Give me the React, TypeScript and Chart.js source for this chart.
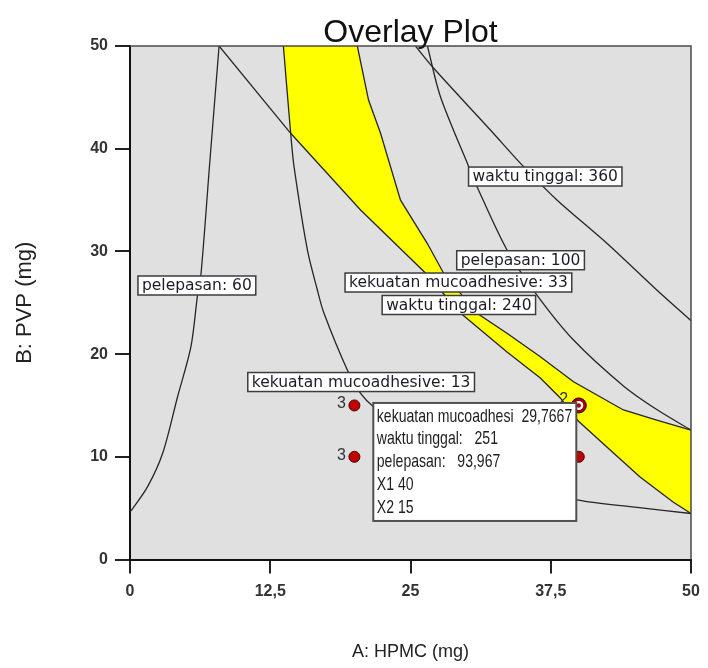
import React, { useEffect, useRef } from 'react';
import { Chart, registerables } from 'chart.js';

Chart.register(...registerables);

// Axis ticks
const X_TICKS = [0, 12.5, 25, 37.5, 50];
const Y_TICKS = [0, 10, 20, 30, 40, 50];

// Contour: pelepasan = 60
const pelepasan60A = [7.94, 7.12, 6.32, 6.02, 5.43, 4.24, 2.91, 1.57, 0.15, 0];
const pelepasan60B = [50, 38.8, 27.7, 25.75, 20.72, 15.85, 10.34, 7.09, 4.82, 4.65];

// Contour: kekuatan mucoadhesive = 13
const kekuatan13A = [13.67, 14.32, 14.62, 15.81, 16.7, 17.29, 19.37, 20.55, 21.71, 25.0, 30.0, 35.0, 39.83, 45.0, 50];
const kekuatan13B = [50, 41.5, 38.25, 30.14, 26.24, 23.97, 18.45, 16.18, 14.88, 12.3, 9.4, 7.3, 5.8, 5.1, 4.48];

// Contour: kekuatan mucoadhesive = 33
const kekuatan33A = [20.26, 21.26, 22.33, 24.11, 26.49, 27.94, 30.93, 33.6, 36.57, 39.53, 43.98, 46.95, 50];
const kekuatan33B = [50, 44.74, 41.5, 34.99, 30.79, 27.9, 23.97, 22.03, 19.75, 17.3, 14.56, 13.58, 12.6];

// Contour: waktu tinggal = 240
const waktu240A = [7.94, 14.32, 20.55, 26.33, 29.45, 33.6, 36.57, 38.35, 39.95, 42.5, 45.46, 48.4, 50];
const waktu240B = [50, 41.5, 34.03, 27.9, 24.0, 20.2, 17.67, 15.73, 13.49, 10.95, 8.03, 5.6, 4.48];

// Contour: waktu tinggal = 360
const waktu360A = [25.44, 27.07, 32.12, 35.08, 38.05, 42.5, 46.95, 50];
const waktu360B = [50, 47.83, 41.82, 38.25, 35.01, 30.79, 26.24, 23.25];

// Contour: pelepasan = 100
const pelepasan100A = [26.51, 27.67, 30.19, 30.93, 33.6, 36.27, 39.53, 43.98, 46.95, 50];
const pelepasan100B = [50, 45.06, 38.25, 36.3, 30.14, 25.75, 21.37, 16.9, 14.6, 12.6];

// Design points and replicate counts
const designA = [20, 20, 40, 40];
const designB = [15, 10, 15, 10];
const replicates = ['3', '3', '2', ''];

// Flagged point
const flagA = [40];
const flagB = [15];
const flagNames = ['kekuatan mucoadhesi', 'waktu tinggal:', 'pelepasan:'];
const flagValues = ['29,7667', '251', '93,967'];

// Contour label texts and where they sit (data units)
const contourLabels = [
  'pelepasan: 60',
  'kekuatan mucoadhesive: 13',
  'kekuatan mucoadhesive: 33',
  'waktu tinggal: 240',
  'pelepasan: 100',
  'waktu tinggal: 360',
];
const labelAnchors = [
  [5.96, 26.68],
  [20.6, 17.28],
  [29.27, 26.97],
  [29.31, 24.78],
  [34.81, 29.14],
  [37.01, 37.29],
];

// Feasible (overlay) region: K13 top edge, then W240, then K33 back up
const feasibleA = [kekuatan13A[0], ...waktu240A.slice(1), ...kekuatan33A.slice().reverse()];
const feasibleB = [kekuatan13B[0], ...waktu240B.slice(1), ...kekuatan33B.slice().reverse()];

const SANS = 'Arial, "Liberation Sans", sans-serif';

const pts = (xs: number[], ys: number[]) => xs.map((x, i) => ({ x, y: ys[i] }));

const contour = (label: string, xs: number[], ys: number[], tension: number) => ({
  label,
  data: pts(xs, ys),
  showLine: true,
  pointRadius: 0,
  borderColor: '#262626',
  borderWidth: 1.3,
  tension,
  fill: false,
  order: 5,
});

const overlayPlugin = {
  id: 'overlayDecor',
  beforeDraw(chart: any) {
    const { ctx, chartArea: a } = chart;
    ctx.save();
    ctx.fillStyle = '#e0e0e0';
    ctx.fillRect(a.left, a.top, a.right - a.left, a.bottom - a.top);
    ctx.restore();
  },
  afterDatasetsDraw(chart: any) {
    const { ctx, chartArea: a } = chart;
    const xs = chart.scales.x;
    const ys = chart.scales.y;
    ctx.save();

    // top and right frame
    ctx.strokeStyle = '#4a4a4a';
    ctx.lineWidth = 1.5;
    ctx.beginPath();
    ctx.moveTo(a.left, a.top);
    ctx.lineTo(a.right, a.top);
    ctx.lineTo(a.right, a.bottom);
    ctx.stroke();

    // replicate counts beside design points
    ctx.font = `16px ${SANS}`;
    ctx.fillStyle = '#333';
    ctx.textAlign = 'center';
    ctx.textBaseline = 'middle';
    designA.forEach((v, i) => {
      if (!replicates[i]) return;
      const flagged = v === flagA[0] && designB[i] === flagB[0];
      const px = xs.getPixelForValue(v) - (flagged ? 15 : 13);
      const py = ys.getPixelForValue(designB[i]) - (flagged ? 6 : 1.5);
      ctx.fillText(replicates[i], px, py);
    });

    // contour labels
    ctx.font = '15.5px "DejaVu Sans", Verdana, sans-serif';
    contourLabels.forEach((text, i) => {
      const cx = xs.getPixelForValue(labelAnchors[i][0]);
      const cy = ys.getPixelForValue(labelAnchors[i][1]);
      const w = ctx.measureText(text).width + 8;
      const h = 19;
      ctx.fillStyle = '#ffffff';
      ctx.fillRect(cx - w / 2, cy - h / 2, w, h);
      ctx.strokeStyle = '#3c3c3c';
      ctx.lineWidth = 1.5;
      ctx.strokeRect(cx - w / 2, cy - h / 2, w, h);
      ctx.fillStyle = '#1c1c28';
      ctx.textAlign = 'center';
      ctx.textBaseline = 'middle';
      ctx.fillText(text, cx, cy + 0.5);
    });

    // flag box for the selected point
    const sx = xs.getPixelForValue(flagA[0]);
    const sy = ys.getPixelForValue(flagB[0]);
    const bw = 203;
    const bh = 118;
    const left = sx - 2.5 - bw;
    const top = sy - 2.5;
    ctx.fillStyle = '#ffffff';
    ctx.fillRect(left, top, bw, bh);
    ctx.strokeStyle = '#505050';
    ctx.lineWidth = 2;
    ctx.strokeRect(left, top, bw, bh);
    const lines = [
      `${flagNames[0]}  ${flagValues[0]}`,
      `${flagNames[1]}   ${flagValues[1]}`,
      `${flagNames[2]}   ${flagValues[2]}`,
      `X1 ${flagA[0]}`,
      `X2 ${flagB[0]}`,
    ];
    ctx.font = `19px "Liberation Sans", ${SANS}`;
    ctx.fillStyle = '#1e1e1e';
    ctx.textAlign = 'left';
    ctx.textBaseline = 'middle';
    lines.forEach((t, i) => {
      ctx.save();
      ctx.translate(left + 3.5, top + 13.5 + i * 22.8);
      ctx.scale(0.74, 1);
      ctx.fillText(t, 0, 0);
      ctx.restore();
    });
    ctx.restore();
  },
  afterDraw(chart: any) {
    const { ctx, chartArea: a } = chart;
    ctx.save();
    ctx.font = `32px ${SANS}`;
    ctx.fillStyle = '#111';
    ctx.textAlign = 'center';
    ctx.textBaseline = 'alphabetic';
    ctx.fillText('Overlay Plot', (a.left + a.right) / 2, 42);
    ctx.restore();
  },
};

export default function App() {
  const ref = useRef<HTMLCanvasElement>(null);

  useEffect(() => {
    const canvas = ref.current;
    if (!canvas) return;
    Chart.defaults.font.family = SANS;

    const datasets: any[] = [
      {
        label: 'feasible',
        data: pts(feasibleA, feasibleB),
        showLine: true,
        pointRadius: 0,
        borderColor: 'rgba(0,0,0,0)',
        borderWidth: 0.01,
        backgroundColor: '#ffff00',
        tension: 0,
        fill: 'shape',
        order: 10,
      },
      contour('pelepasan: 60', pelepasan60A, pelepasan60B, 0.3),
      contour('kekuatan mucoadhesive: 13', kekuatan13A, kekuatan13B, 0.3),
      contour('kekuatan mucoadhesive: 33', kekuatan33A, kekuatan33B, 0),
      contour('waktu tinggal: 240', waktu240A, waktu240B, 0),
      contour('waktu tinggal: 360', waktu360A, waktu360B, 0.3),
      contour('pelepasan: 100', pelepasan100A, pelepasan100B, 0.3),
      {
        label: 'design',
        data: pts(designA, designB),
        pointRadius: 5.5,
        backgroundColor: '#c00000',
        borderColor: '#4a0000',
        borderWidth: 1,
        order: 3,
      },
      {
        label: 'flag-outer',
        data: pts(flagA, flagB),
        pointRadius: 7.5,
        backgroundColor: '#a80000',
        borderColor: '#2a0000',
        borderWidth: 1,
        order: 2,
      },
      {
        label: 'flag-ring',
        data: pts(flagA, flagB),
        pointRadius: 4.5,
        backgroundColor: '#ffffff',
        borderColor: 'rgba(0,0,0,0)',
        borderWidth: 0,
        order: 1,
      },
      {
        label: 'flag-dot',
        data: pts(flagA, flagB),
        pointRadius: 2.2,
        backgroundColor: '#b00000',
        borderColor: 'rgba(0,0,0,0)',
        borderWidth: 0,
        order: 0,
      },
    ];

    const tickFont = { family: SANS, size: 16, weight: 'bold' as const };

    const chart = new Chart(canvas, {
      type: 'scatter',
      data: { datasets },
      options: {
        animation: false,
        responsive: false,
        maintainAspectRatio: false,
        events: [],
        layout: { padding: { top: 46, right: 17, left: 0, bottom: 0 } },
        plugins: {
          legend: { display: false },
          tooltip: { enabled: false },
          title: { display: false },
        },
        scales: {
          x: {
            type: 'linear',
            min: 0,
            max: 50,
            afterFit: (s: any) => {
              s.height = 108.5;
            },
            afterBuildTicks: (s: any) => {
              s.ticks = X_TICKS.map((value) => ({ value }));
            },
            ticks: {
              font: tickFont,
              color: '#333',
              padding: 8,
              maxRotation: 0,
              callback: (v: any) => String(v).replace('.', ','),
            },
            grid: { drawOnChartArea: false, drawTicks: true, tickLength: 14, color: '#222', lineWidth: 2 },
            border: { display: true, color: '#111', width: 2 },
            title: {
              display: true,
              text: 'A: HPMC (mg)',
              font: { family: SANS, size: 18 },
              color: '#222',
              padding: { top: 0, bottom: 5 },
            },
          },
          y: {
            type: 'linear',
            min: 0,
            max: 50,
            afterFit: (s: any) => {
              s.width = 130;
            },
            afterBuildTicks: (s: any) => {
              s.ticks = Y_TICKS.map((value) => ({ value }));
            },
            ticks: { font: tickFont, color: '#333', padding: 7 },
            grid: { drawOnChartArea: false, drawTicks: true, tickLength: 15, color: '#222', lineWidth: 2 },
            border: { display: true, color: '#111', width: 2 },
            title: {
              display: true,
              text: 'B: PVP (mg)',
              font: { family: SANS, size: 22 },
              color: '#222',
              padding: { top: 12, bottom: 0 },
            },
          },
        },
      } as any,
      plugins: [overlayPlugin],
    });

    return () => chart.destroy();
  }, []);

  return (
    <div style={{ position: 'fixed', left: 0, top: 0, width: 708, height: 668, background: '#fff' }}>
      <canvas ref={ref} width={708} height={668} style={{ display: 'block', width: 708, height: 668 }} />
    </div>
  );
}
